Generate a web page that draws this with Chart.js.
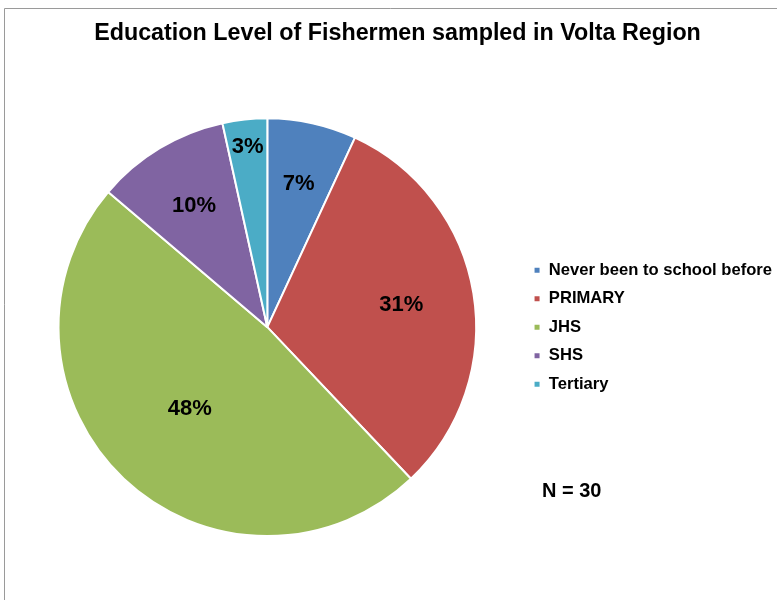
<!DOCTYPE html>
<html>
<head>
<meta charset="utf-8">
<script src="https://cdn.jsdelivr.net/npm/chart.js@4"></script>
<style>
  html, body { margin: 0; padding: 0; background: #fff; }
  #wrap { width: 777px; height: 600px; position: relative; }
</style>
</head>
<body>
<div id="wrap"><canvas id="eduChart" width="777" height="600"></canvas></div>
<script>
const categories = ['Never been to school before', 'PRIMARY', 'JHS', 'SHS', 'Tertiary'];
const counts = [2, 9, 14, 3, 1];
const sliceColors = ['#4F81BD', '#C0504D', '#9BBB59', '#8064A2', '#4BACC6'];
const sampleNote = 'N = 30';

const total = counts.reduce((a, b) => a + b, 0);

// percentage labels inside the slices (radius fraction per slice, like Excel's best fit)
const labelRadius = [0.70, 0.65, 0.54, 0.68, 0.87];
const pieLabels = {
    id: 'pieLabels',
    afterDatasetsDraw(chart) {
        const ctx = chart.ctx;
        const meta = chart.getDatasetMeta(0);
        ctx.save();
        ctx.font = 'bold 22px "Liberation Sans", Arial, sans-serif';
        ctx.fillStyle = '#000';
        ctx.textAlign = 'center';
        ctx.textBaseline = 'middle';
        meta.data.forEach((arc, i) => {
            const mid = (arc.startAngle + arc.endAngle) / 2;
            const r = arc.outerRadius * labelRadius[i];
            const pct = Math.round(counts[i] / total * 100) + '%';
            ctx.fillText(pct, arc.x + Math.cos(mid) * r, arc.y + Math.sin(mid) * r);
        });
        ctx.restore();
    }
};

// frame lines and the N note
const frame = {
    id: 'frame',
    afterDraw(chart) {
        const ctx = chart.ctx;
        ctx.save();
        ctx.strokeStyle = '#9a9a9a';
        ctx.lineWidth = 1;
        ctx.beginPath();
        ctx.moveTo(4.5, 600);
        ctx.lineTo(4.5, 8.5);
        ctx.lineTo(777, 8.5);
        ctx.stroke();
        ctx.font = 'bold 20px "Liberation Sans", Arial, sans-serif';
        ctx.fillStyle = '#000';
        ctx.textAlign = 'left';
        ctx.textBaseline = 'middle';
        ctx.fillText(sampleNote, 542, 491);
        ctx.restore();
    }
};

new Chart(document.getElementById('eduChart').getContext('2d'), {
    type: 'pie',
    data: {
        labels: categories,
        datasets: [{
            data: counts,
            backgroundColor: sliceColors,
            borderColor: '#fff',
            borderWidth: 2
        }]
    },
    options: {
        responsive: false,
        animation: false,
        layout: { padding: { left: 13, right: -5, top: 0, bottom: 63 } },
        plugins: {
            title: {
                display: true,
                text: 'Education Level of Fishermen sampled in Volta Region',
                color: '#000',
                font: { family: '"Liberation Sans", Arial, sans-serif', size: 23.3, weight: 'bold' },
                padding: { top: 20, bottom: 69.4 }
            },
            legend: {
                position: 'right',
                fullSize: false,
                labels: {
                    color: '#000',
                    boxWidth: 7,
                    boxHeight: 7,
                    padding: 11.9,
                    font: { family: '"Liberation Sans", Arial, sans-serif', size: 16.6, weight: 'bold' }
                }
            },
            tooltip: { enabled: false }
        }
    },
    plugins: [pieLabels, frame]
});
</script>
</body>
</html>
